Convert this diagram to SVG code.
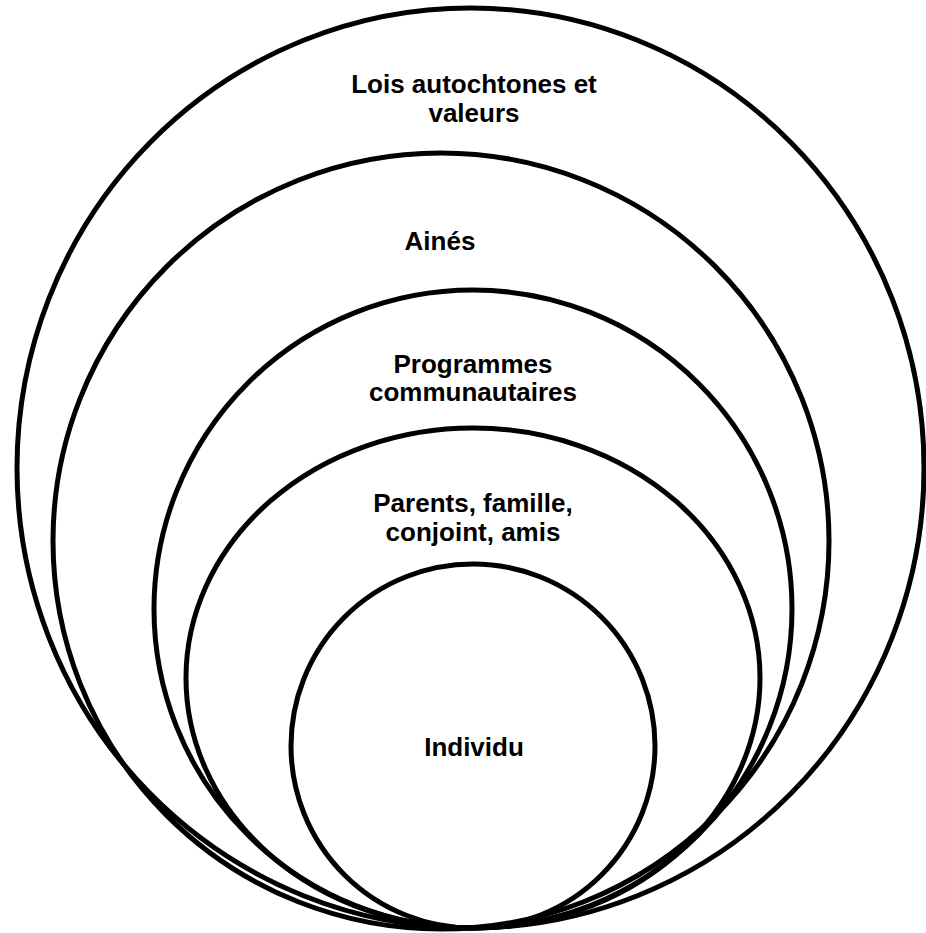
<svg xmlns="http://www.w3.org/2000/svg" width="926" height="933" viewBox="0 0 926 933">
<style>
.ring{fill:none;stroke:#000;stroke-width:5}
.lbl{font-family:"Liberation Sans",Arial,sans-serif;font-weight:bold;font-size:26px;fill:#000;text-anchor:middle}
</style>
<rect width="926" height="933" fill="#fff"/>
<g id="lois">
<ellipse class="ring" cx="470.5" cy="468" rx="453.5" ry="460"/>
<text class="lbl" x="474" y="93">Lois autochtones et</text>
<text class="lbl" x="474" y="122">valeurs</text>
</g>
<g id="aines">
<circle class="ring" cx="441" cy="541" r="388"/>
<text class="lbl" x="440" y="250">Ainés</text>
</g>
<g id="programmes">
<circle class="ring" cx="473" cy="609" r="319"/>
<text class="lbl" x="473" y="373">Programmes</text>
<text class="lbl" x="473" y="401">communautaires</text>
</g>
<g id="parents">
<ellipse class="ring" cx="473" cy="678" rx="287" ry="250"/>
<text class="lbl" x="473" y="512">Parents, famille,</text>
<text class="lbl" x="473" y="541">conjoint, amis</text>
</g>
<g id="individu">
<circle class="ring" cx="473" cy="746" r="182"/>
<text class="lbl" x="474" y="756">Individu</text>
</g>
<g id="connectors"/>
</svg>
